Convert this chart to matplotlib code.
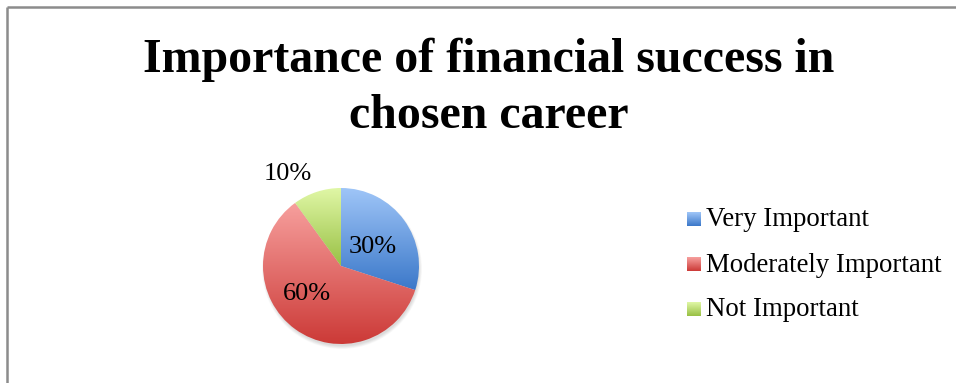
import numpy as np
import matplotlib
matplotlib.use("Agg")
import matplotlib.pyplot as plt
from matplotlib.patches import Wedge, Circle
from matplotlib.colors import LinearSegmentedColormap

categories = ["Very Important", "Moderately Important", "Not Important"]
shares = [30, 60, 10]
pct_labels = ["30%", "60%", "10%"]
title_lines = ["Importance of financial success in", "chosen career"]

# gradient endpoints per slice (top colour, bottom colour)
grad_top = ["#a0c6f8", "#f7a09e", "#e0f7a6"]
grad_bot = ["#3b78c9", "#cc3a37", "#98c044"]

W, H = 956, 383
fig = plt.figure(figsize=(W / 100, H / 100), dpi=100)
fig.patch.set_facecolor("white")

serif = ["Liberation Serif", "DejaVu Serif"]

ax = fig.add_axes([0, 0, 1, 1])
ax.set_xlim(0, W)
ax.set_ylim(H, 0)
ax.axis("off")

# chart frame (top and left edges visible)
ax.plot([7, 7], [H + 5, 7], color="#8c8c8c", lw=1.8, solid_capstyle="butt")
ax.plot([7, W + 5], [7, 7], color="#8c8c8c", lw=1.8, solid_capstyle="butt")

ax.text(489, 72, title_lines[0], ha="center", va="baseline", fontsize=34.5,
        fontweight="bold", family=serif)
ax.text(489, 128, title_lines[1], ha="center", va="baseline", fontsize=34.5,
        fontweight="bold", family=serif)

# pie geometry in pixel units
cx, cy, r = 341, 266, 78

# soft shadow under the pie
for k in range(6):
    ax.add_patch(Circle((cx + 1, cy + 3), r + 2 - k * 0.6, color="#000000",
                        alpha=0.025, lw=0))

start = 90.0
total = sum(shares)
for i, v in enumerate(shares):
    sweep = 360.0 * v / total
    # y axis points downward, so angles are mirrored
    t1, t2 = -start, -start + sweep
    w = Wedge((cx, cy), r, t1, t2, facecolor="none", edgecolor="none")
    ax.add_patch(w)
    th = np.radians(np.linspace(t1, t2, 200))
    ys = np.concatenate([[cy], cy + r * np.sin(th)])
    y0, y1 = ys.min(), ys.max()
    cmap = LinearSegmentedColormap.from_list(f"g{i}", [grad_top[i], grad_bot[i]])
    grad = np.linspace(0, 1, 256).reshape(-1, 1)
    im = ax.imshow(grad, cmap=cmap, extent=[cx - r, cx + r, y1, y0], aspect="auto",
                   interpolation="bilinear", zorder=2)
    im.set_clip_path(w)
    start -= sweep

# percentage labels
ax.text(372.5, 253, pct_labels[0], ha="center", va="baseline", fontsize=19,
        family=serif, zorder=5)
ax.text(307, 300, pct_labels[1], ha="center", va="baseline", fontsize=19,
        family=serif, zorder=5)
ax.text(287.5, 180, pct_labels[2], ha="center", va="baseline", fontsize=19,
        family=serif, zorder=5)

# legend with gradient swatches
leg_base = [226.5, 271.5, 316.5]
for i, name in enumerate(categories):
    x0, s = 687, 13.5
    yb = leg_base[i]
    cmap = LinearSegmentedColormap.from_list(f"l{i}", [grad_top[i], grad_bot[i]])
    grad = np.linspace(0, 1, 64).reshape(-1, 1)
    ax.imshow(grad, cmap=cmap, extent=[x0, x0 + s, yb, yb - s], aspect="auto",
              interpolation="bilinear", zorder=3)
    ax.text(706, yb, name, ha="left", va="baseline", fontsize=19.3, family=serif)

ax.set_xlim(0, W)
ax.set_ylim(H, 0)
fig.savefig("out.png", dpi=100, facecolor="white")
